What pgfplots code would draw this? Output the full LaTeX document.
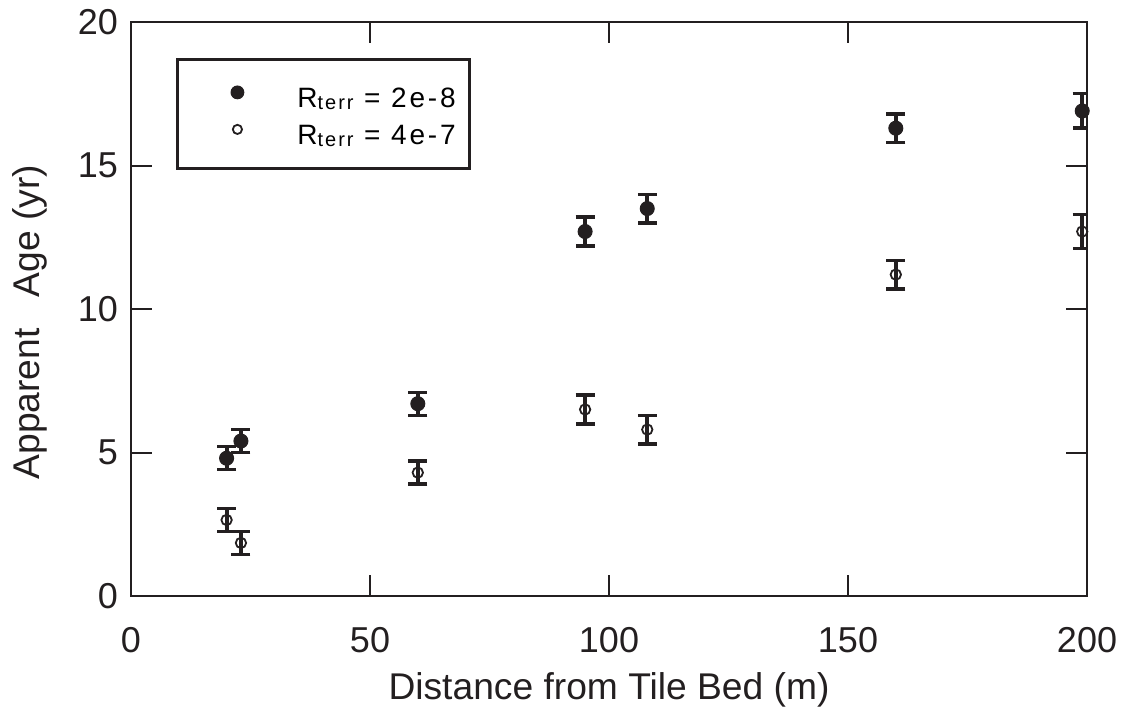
\documentclass[border=0pt]{standalone}
\usepackage{pgfplots}
\usepackage{pgfplotstable}
\pgfplotsset{compat=1.18}
\usepackage{fontspec}
\setmainfont{Liberation Sans}
\newfontfamily\legfont[LetterSpace=10]{Liberation Sans}
\definecolor{ink}{HTML}{231F20}

% apparent age vs distance, with +/- uncertainty
\pgfplotstableread{
x y e
20 4.8 0.4
23 5.4 0.4
60 6.7 0.4
95 12.7 0.5
108 13.5 0.5
160 16.3 0.5
199 16.9 0.6
}\lowrate
\pgfplotstableread{
x y e
20 2.65 0.4
23 1.85 0.4
60 4.3 0.4
95 6.5 0.5
108 5.8 0.5
160 11.2 0.5
199 12.7 0.6
}\highrate

\newcommand\rterr{R\raisebox{-1pt}{\fontsize{10}{10}\selectfont terr}}

% legend keys: a single marker inside a fixed-width cell
\pgfplotsset{
  legfilled/.style={legend image code/.code={\path[draw=none] (0pt,0pt) rectangle (53pt,1pt);
    \draw[##1, mark size=3.2pt, line width=0.5pt] plot coordinates {(23pt,1.5pt)};}},
  legopen/.style={legend image code/.code={\path[draw=none] (0pt,0pt) rectangle (53pt,1pt);
    \draw[##1, mark size=2.3pt, line width=0.8pt] plot coordinates {(23pt,1.5pt)};}},
}

\begin{document}
\begin{tikzpicture}
\begin{axis}[
  at={(0pt,0pt)}, anchor=south west,
  scale only axis, width=478pt, height=287pt,
  xmin=0, xmax=200, ymin=0, ymax=20,
  xtick={0,50,...,200}, ytick={0,5,...,20},
  minor tick num=0,
  tick align=inside,
  major tick length=10.5pt,
  tick style={line width=1pt, draw=ink},
  axis line style={line width=1.4pt, draw=ink},
  tick label style={font=\fontsize{18}{20}\selectfont, text=ink},
  /pgf/number format/assume math mode=true,
  xticklabel style={yshift=-12pt},
  yticklabel style={xshift=-3pt},
  xlabel={Distance from Tile Bed (m)},
  ylabel={Apparent\ \ \ Age (yr)},
  label style={font=\fontsize{18.6}{20}\selectfont, text=ink, inner sep=0pt},
  xlabel style={at={(axis description cs:0.5,0)}, anchor=north, yshift=-38pt},
  ylabel style={at={(axis description cs:-0.1245,0.477)}, anchor=north},
  legend cell align=left,
  legend style={
    at={(axis description cs:0.0471,0.9373)}, anchor=north west,
    draw=ink, line width=1.4pt, fill=white,
    inner xsep=7pt, inner ysep=12pt,
    row sep=6.5pt,
    font=\legfont\fontsize{14}{16}\selectfont,
    nodes={inner sep=0pt, text height=12pt, text depth=0pt},
    /tikz/every even column/.append style={column sep=0pt},
  },
  error bars/y dir=both,
  error bars/y explicit,
  error bars/error mark=|,
  error bars/error bar style={line width=2pt, draw=ink},
  error bars/error mark options={line width=1.7pt, mark size=4.75pt, draw=ink},
]
\addplot[only marks, mark=*, mark size=3.5pt,
  mark options={fill=ink, draw=ink, line width=0.5pt}, legfilled]
  table[x=x, y=y, y error=e] {\lowrate};
\addlegendentry{\rterr{} = 2e-8}
\addplot[only marks, mark=o, mark size=2.6pt,
  mark options={draw=ink, fill=none, line width=0.9pt}, legopen]
  table[x=x, y=y, y error=e] {\highrate};
\addlegendentry{\rterr{} = 4e-7}
\end{axis}
\pgfresetboundingbox
\path[use as bounding box] (-65.5pt,-56.5pt) rectangle (498pt,298pt);
\end{tikzpicture}
\end{document}
